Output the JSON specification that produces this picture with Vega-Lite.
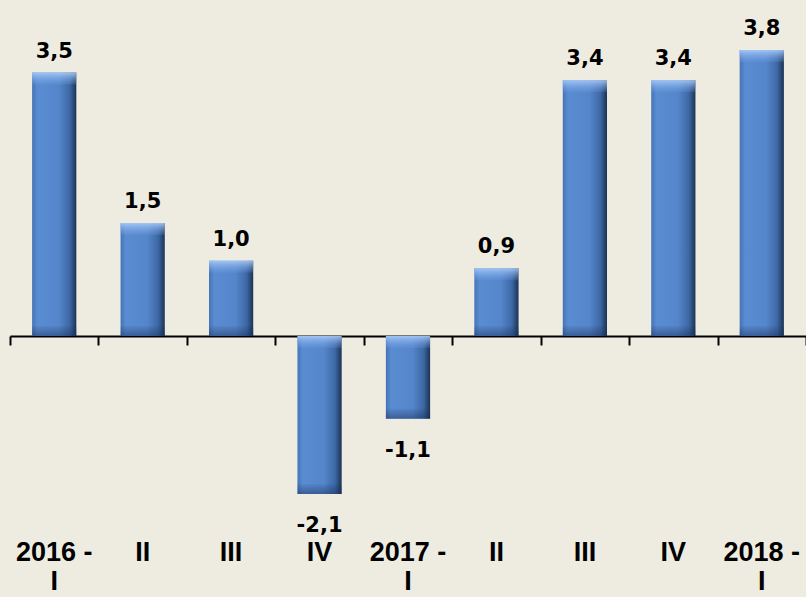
{
  "$schema": "https://vega.github.io/schema/vega-lite/v6.json",
  "width": 796,
  "height": 489,
  "autosize": {"type": "none"},
  "padding": {"left": 10, "top": 35, "right": 0, "bottom": 73},
  "background": "#EEECE1",
  "config": {
    "view": {"stroke": null},
    "locale": {"number": {"decimal": ",", "thousands": ".", "grouping": [3], "currency": ["", " €"], "minus": "-"}},
    "text": {"font": "DejaVu Sans", "fontWeight": "bold", "fontSize": 21, "color": "#000000"}
  },
  "data": {
    "values": [
      {"q": "2016-I", "label": "2016 -\nI", "value": 3.5},
      {"q": "2016-II", "label": "II", "value": 1.5},
      {"q": "2016-III", "label": "III", "value": 1.0},
      {"q": "2016-IV", "label": "IV", "value": -2.1},
      {"q": "2017-I", "label": "2017 -\nI", "value": -1.1},
      {"q": "2017-II", "label": "II", "value": 0.9},
      {"q": "2017-III", "label": "III", "value": 3.4},
      {"q": "2017-IV", "label": "IV", "value": 3.4},
      {"q": "2018-I", "label": "2018 -\nI", "value": 3.8}
    ]
  },
  "encoding": {
    "x": {
      "field": "q",
      "type": "nominal",
      "sort": null,
      "scale": {"paddingInner": 0, "paddingOuter": 0},
      "axis": {
        "title": null,
        "labels": false,
        "grid": false,
        "domainColor": "#000000",
        "domainWidth": 2,
        "tickColor": "#000000",
        "tickWidth": 2,
        "tickSize": 9,
        "tickBand": "extent",
        "offset": -188
      }
    }
  },
  "layer": [
    {
      "mark": {
        "type": "bar",
        "width": {"band": 0.5},
        "fill": {
          "gradient": "linear", "x1": 0, "x2": 1, "y1": 0, "y2": 0,
          "stops": [
            {"offset": 0, "color": "#4574B6"},
            {"offset": 0.12, "color": "#5A8CD2"},
            {"offset": 0.6, "color": "#5586CB"},
            {"offset": 0.85, "color": "#3D68A5"},
            {"offset": 1, "color": "#1B3355"}
          ]
        },
        "stroke": null
      },
      "encoding": {
        "y": {"field": "value", "type": "quantitative", "scale": {"domain": [-2.5, 4], "nice": false, "zero": false}, "axis": null},
        "y2": {"datum": 0}
      }
    },
    {
      "transform": [{"filter": "datum.value > 0"}],
      "mark": {
        "type": "bar",
        "width": {"band": 0.5},
        "y2Offset": 12,
        "fill": {
          "gradient": "linear", "x1": 0, "x2": 0, "y1": 0, "y2": 1,
          "stops": [
            {"offset": 0, "color": "rgba(175,208,252,0.85)"},
            {"offset": 1, "color": "rgba(120,165,230,0.15)"}
          ]
        }
      },
      "encoding": {
        "y": {"field": "value", "type": "quantitative"},
        "y2": {"field": "value"}
      }
    },
    {
      "transform": [{"filter": "datum.value > 0"}],
      "mark": {
        "type": "bar",
        "width": {"band": 0.5},
        "yOffset": -10,
        "fill": {
          "gradient": "linear", "x1": 0, "x2": 0, "y1": 0, "y2": 1,
          "stops": [
            {"offset": 0, "color": "rgba(20,40,80,0.05)"},
            {"offset": 1, "color": "rgba(20,40,80,0.45)"}
          ]
        }
      },
      "encoding": {
        "y": {"datum": 0, "type": "quantitative"},
        "y2": {"datum": 0}
      }
    },
    {
      "transform": [{"filter": "datum.value < 0"}],
      "mark": {
        "type": "bar",
        "width": {"band": 0.5},
        "y2Offset": 12,
        "fill": {
          "gradient": "linear", "x1": 0, "x2": 0, "y1": 0, "y2": 1,
          "stops": [
            {"offset": 0, "color": "rgba(175,208,252,0.85)"},
            {"offset": 1, "color": "rgba(120,165,230,0.15)"}
          ]
        }
      },
      "encoding": {
        "y": {"datum": 0, "type": "quantitative"},
        "y2": {"datum": 0}
      }
    },
    {
      "transform": [{"filter": "datum.value < 0"}],
      "mark": {
        "type": "bar",
        "width": {"band": 0.5},
        "yOffset": -10,
        "fill": {
          "gradient": "linear", "x1": 0, "x2": 0, "y1": 0, "y2": 1,
          "stops": [
            {"offset": 0, "color": "rgba(20,40,80,0.05)"},
            {"offset": 1, "color": "rgba(20,40,80,0.45)"}
          ]
        }
      },
      "encoding": {
        "y": {"field": "value", "type": "quantitative"},
        "y2": {"field": "value"}
      }
    },
    {
      "transform": [{"filter": "datum.value > 0"}],
      "mark": {"type": "text", "baseline": "alphabetic", "dy": -15},
      "encoding": {
        "y": {"field": "value", "type": "quantitative"},
        "text": {"field": "value", "type": "quantitative", "format": ".1f"}
      }
    },
    {
      "transform": [{"filter": "datum.value < 0"}],
      "mark": {"type": "text", "baseline": "alphabetic", "dy": 38},
      "encoding": {
        "y": {"field": "value", "type": "quantitative"},
        "text": {"field": "value", "type": "quantitative", "format": ".1f"}
      }
    },
    {
      "mark": {"type": "text", "baseline": "alphabetic", "dy": 37, "lineBreak": "\n", "lineHeight": 29, "font": "Liberation Sans", "fontSize": 27},
      "encoding": {
        "y": {"datum": -2.5, "type": "quantitative"},
        "text": {"field": "label"}
      }
    }
  ]
}
